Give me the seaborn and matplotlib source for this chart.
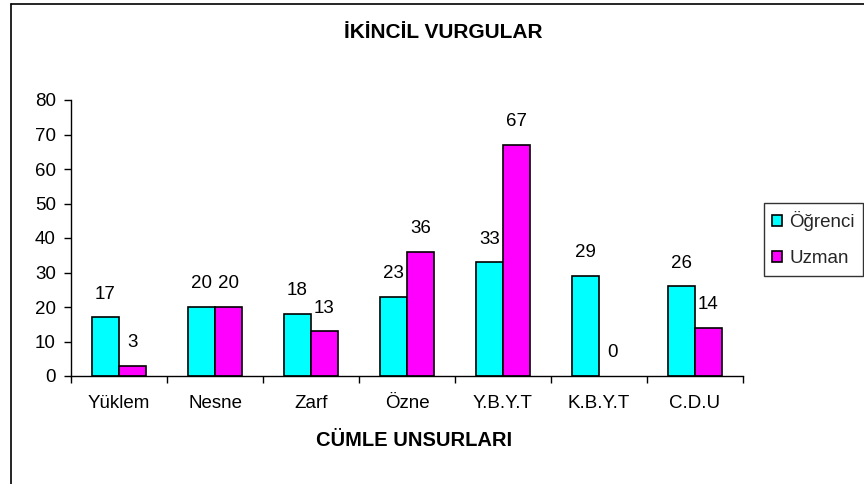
import matplotlib
matplotlib.use("Agg")
import matplotlib.pyplot as plt
import seaborn as sns
import pandas as pd
from matplotlib.lines import Line2D
from matplotlib.patches import Patch

categories = ['Yüklem', 'Nesne', 'Zarf', 'Özne', 'Y.B.Y.T', 'K.B.Y.T', 'C.D.U']
ogrenci = [17, 20, 18, 23, 33, 29, 26]
uzman = [3, 20, 13, 36, 67, 0, 14]
series_names = ['Öğrenci', 'Uzman']
colors = {'Öğrenci': '#00FFFF', 'Uzman': '#FF00FF'}
yticks = [0, 10, 20, 30, 40, 50, 60, 70, 80]

df = pd.DataFrame({
    'cat': categories * 2,
    'val': ogrenci + uzman,
    'ser': [series_names[0]] * len(categories) + [series_names[1]] * len(categories),
})

sns.set_theme(style="white")
plt.rcParams['font.family'] = ['Liberation Sans', 'DejaVu Sans']

FS = 13.5

fig = plt.figure(figsize=(8.64, 4.84), dpi=100)
ax = fig.add_axes([71/864, 1-376/484, (743-71)/864, (376-100)/484])

sns.barplot(data=df, x='cat', y='val', hue='ser', order=categories,
            hue_order=series_names, palette=colors, width=0.56, gap=0,
            edgecolor='black', linewidth=1.2, legend=False, ax=ax, saturation=1)

for cont in ax.containers:
    for p in cont.patches:
        if p.get_height() == 0:
            p.set_linewidth(0)
    ax.bar_label(cont, fmt='%d', padding=10.5, fontsize=FS, color='black')

ax.set_ylim(0, 80)
ax.set_xlim(-0.5, len(categories) - 0.5)
ax.set_yticks(yticks)
ax.set_yticklabels([str(t) for t in yticks], fontsize=FS)
ax.set_xticks(range(len(categories)))
ax.set_xticklabels(categories, fontsize=FS)
ax.set_xticks([i - 0.5 for i in range(len(categories) + 1)], minor=True)
ax.tick_params(axis='x', which='major', length=0, pad=14, colors='black')
ax.tick_params(axis='x', which='minor', length=5, width=1, color='black', direction='out', bottom=True)
ax.tick_params(axis='y', length=5, width=1, color='black', direction='out', left=True, pad=6, labelcolor='black')
for s in ['top', 'right']:
    ax.spines[s].set_visible(False)
for s in ['left', 'bottom']:
    ax.spines[s].set_color('black')
    ax.spines[s].set_linewidth(1)
ax.set_ylabel('')
ax.set_xlabel('CÜMLE UNSURLARI', fontsize=14.5, fontweight='bold', color='black')
ax.xaxis.set_label_coords((414-71)/672, (376-440)/276)
ax.xaxis.label.set_va('center')

fig.text(443/864, 1-33/484, 'İKİNCİL VURGULAR', ha='center', va='center',
         fontsize=15, fontweight='bold', color='black')

handles = [Patch(facecolor=colors[n], edgecolor='black', linewidth=1.2) for n in series_names]
leg = ax.legend(handles, series_names, loc='upper left',
                bbox_to_anchor=(764/864, 1-203/484), bbox_transform=fig.transFigure,
                borderaxespad=0, frameon=True, fancybox=False, edgecolor='black',
                fontsize=FS, handlelength=0.5, handleheight=0.5, handletextpad=0.4,
                labelspacing=1.0, borderpad=0.45)
leg.get_frame().set_linewidth(1)

fig.add_artist(Line2D([11/864, 1], [1-4/484, 1-4/484], transform=fig.transFigure, color='black', lw=1.2))
fig.add_artist(Line2D([11/864, 11/864], [0, 1-4/484], transform=fig.transFigure, color='black', lw=1.2))

fig.savefig('out.png', dpi=100)
